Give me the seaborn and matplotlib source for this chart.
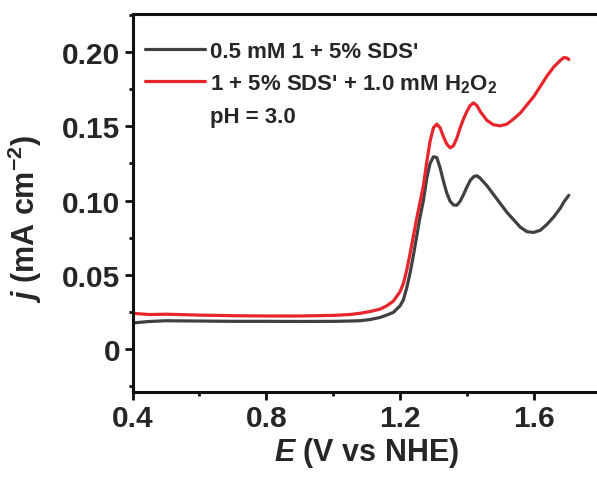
import numpy as np
import pandas as pd
import matplotlib
matplotlib.use("Agg")
import matplotlib.pyplot as plt
import seaborn as sns
from matplotlib.ticker import MultipleLocator

# Potential sweep (V vs NHE)
potential = [0.40, 0.45, 0.50, 0.60, 0.70, 0.80, 0.90, 1.00, 1.05, 1.08, 1.11, 1.14,
             1.16, 1.18, 1.20, 1.21, 1.22, 1.23, 1.24, 1.25, 1.26, 1.27, 1.28, 1.29,
             1.30, 1.31, 1.32, 1.33, 1.34, 1.35, 1.36, 1.37, 1.38, 1.39, 1.40, 1.41,
             1.42, 1.43, 1.44, 1.46, 1.48, 1.50, 1.52, 1.54, 1.56, 1.58, 1.60, 1.62,
             1.64, 1.66, 1.68, 1.69, 1.70, 1.705]

# Current density, catalyst only (mA cm^-2)
j_catalyst = [0.0175, 0.0185, 0.0190, 0.0188, 0.0186, 0.0186, 0.0185, 0.0186, 0.0188,
              0.0190, 0.0198, 0.0212, 0.0228, 0.0246, 0.0290, 0.0330, 0.041, 0.051,
              0.063, 0.076, 0.089, 0.100, 0.115, 0.125, 0.1295, 0.129, 0.122, 0.113,
              0.105, 0.0995, 0.0970, 0.0968, 0.0995, 0.104, 0.109, 0.1135, 0.116,
              0.1167, 0.115, 0.110, 0.104, 0.098, 0.092, 0.087, 0.082, 0.079, 0.0785,
              0.080, 0.084, 0.089, 0.095, 0.099, 0.102, 0.1035]

# Current density with added H2O2 (mA cm^-2)
j_h2o2 = [0.0240, 0.0232, 0.0234, 0.0228, 0.0224, 0.0222, 0.0222, 0.0226, 0.0232,
          0.0240, 0.0252, 0.0268, 0.0290, 0.0322, 0.0385, 0.044, 0.053, 0.064, 0.076,
          0.088, 0.099, 0.110, 0.126, 0.140, 0.149, 0.1515, 0.149, 0.143, 0.138,
          0.1355, 0.137, 0.142, 0.149, 0.155, 0.160, 0.164, 0.1658, 0.164, 0.160,
          0.154, 0.1510, 0.1503, 0.1515, 0.155, 0.159, 0.1645, 0.170, 0.177, 0.184,
          0.190, 0.1945, 0.1963, 0.1960, 0.1950]

series_labels = ["0.5 mM 1 + 5% SDS'",
                 "1 + 5% SDS' + 1.0 mM H$_\\mathbf{2}$O$_\\mathbf{2}$"]
annotation = "pH = 3.0"
x_ticks = [0.4, 0.8, 1.2, 1.6]
y_ticks = [0, 0.05, 0.10, 0.15, 0.20]
y_ticklabels = ["0", "0.05", "0.10", "0.15", "0.20"]

df = pd.concat([
    pd.DataFrame({"E": potential, "j": j_catalyst, "series": series_labels[0]}),
    pd.DataFrame({"E": potential, "j": j_h2o2, "series": series_labels[1]}),
], ignore_index=True)

sns.set_style("ticks")
plt.rcParams["font.family"] = ["Liberation Sans", "DejaVu Sans"]
plt.rcParams["font.weight"] = "bold"
plt.rcParams["mathtext.fontset"] = "custom"
plt.rcParams["mathtext.rm"] = "Liberation Sans:bold"
plt.rcParams["mathtext.bf"] = "Liberation Sans:bold"
plt.rcParams["mathtext.it"] = "Liberation Sans:italic:bold"

fig = plt.figure(figsize=(5.97, 4.81), dpi=100)
ax = fig.add_axes([0.222, 0.1836, 0.784, 0.785])

sns.lineplot(data=df, x="E", y="j", hue="series", palette=["#404040", "#e8252b"],
             sort=False, estimator=None, linewidth=2.3, ax=ax)

ax.set_xlim(0.4, 1.8)
ax.set_ylim(-0.0288, 0.2256)
ax.set_xticks(x_ticks)
ax.set_xticklabels([f"{v:.1f}" for v in x_ticks])
ax.set_yticks(y_ticks)
ax.set_yticklabels(y_ticklabels)
ax.xaxis.set_minor_locator(MultipleLocator(0.2))
ax.yaxis.set_minor_locator(MultipleLocator(0.025))

for side in ["left", "bottom", "top", "right"]:
    ax.spines[side].set_linewidth(2.2)
    ax.spines[side].set_color("#111111")
ax.tick_params(which="major", direction="out", length=6, width=2, labelsize=21.5, pad=3,
               color="#111111")
ax.tick_params(which="minor", direction="out", length=3, width=2, color="#111111")
ax.tick_params(top=False, right=False, which="both")

ax.set_xlabel("$\\mathit{E}$ (V vs NHE)", fontsize=22, fontweight="bold", labelpad=2)
ax.set_ylabel("$\\mathit{j}$ (mA cm$^\\mathbf{-2}$)", fontsize=22, fontweight="bold")
ax.yaxis.set_label_coords(-0.19, 0.46)

handles, labels = ax.get_legend_handles_labels()
ax.legend(handles, labels, loc="upper left", bbox_to_anchor=(0.0267, 0.93), frameon=False,
          fontsize=16, handlelength=2.7, handletextpad=0.22, labelspacing=0.48,
          borderaxespad=0, borderpad=0)
ax.text(0.1655, 0.730, annotation, transform=ax.transAxes, fontsize=16,
        fontweight="bold", va="center", ha="left")

fig.savefig("out.png", dpi=100)
